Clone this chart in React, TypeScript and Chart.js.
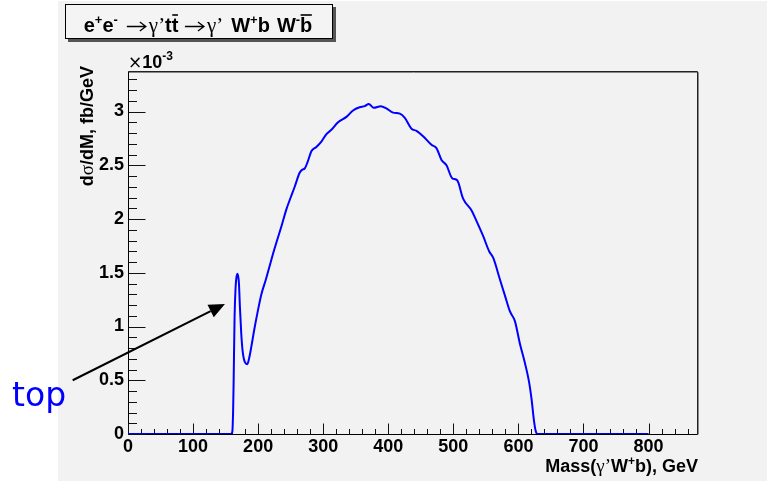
import React, { useEffect, useRef } from "react";
import { Chart, registerables } from "chart.js";

Chart.register(...registerables);

// Invariant mass of (gamma' W+ b), GeV
const massGeV = [
  0, 150, 158, 160.3, 161.5, 162.3, 163.8, 165.4, 167, 168.5, 170.5, 172, 174, 176, 178, 180.5,
  183.4, 186, 189.5, 194, 199.7, 205, 212, 218, 223, 229, 235.7, 243.4, 250, 256.2, 263.8, 268,
  271.5, 276.6, 281.8, 289.5, 297.2, 305, 312.6, 322.8, 335.7, 345.8, 356, 363.8, 370, 377.7,
  388.5, 397, 407.4, 417.7, 425.4, 435.7, 443.4, 453.5, 466.4, 474, 481.8, 489.5, 498.2, 505.9,
  515, 528, 535.7, 545.9, 555, 561.2, 571.5, 579.2, 587, 594.6, 602.3, 610, 616.2, 620.3, 623.8,
  626.5, 629, 640, 800,
];
// d(sigma)/dM in units of 1e-3 fb/GeV
const dSigmaDM = [
  0, 0, 0, 0.02, 0.2, 0.47, 1.09, 1.37, 1.47, 1.49, 1.4, 1.18, 0.94, 0.78, 0.7, 0.66,
  0.65, 0.7, 0.81, 0.97, 1.15, 1.3, 1.44, 1.57, 1.68, 1.8, 1.93, 2.09, 2.2, 2.3, 2.43, 2.46,
  2.47, 2.54, 2.63, 2.67, 2.72, 2.79, 2.83, 2.9, 2.95, 3.01, 3.04, 3.05, 3.07, 3.035,
  3.05, 3.03, 2.99, 2.98, 2.94, 2.84, 2.82, 2.77, 2.69, 2.66, 2.55, 2.5, 2.38, 2.36,
  2.19, 2.08, 1.98, 1.84, 1.7, 1.64, 1.44, 1.29, 1.14, 1.05, 0.84, 0.66, 0.49, 0.32, 0.13,
  0.03, 0, 0, 0,
];

const xMajorTicks = [0, 100, 200, 300, 400, 500, 600, 700, 800];
const yMajorTicks = [0, 0.5, 1, 1.5, 2, 2.5, 3];
const xRange = [0, 876];
const yRange = [0, 3.377];
const xMinorStep = 20;
const yMinorStep = 0.1;

const arrowFrom = { x: -85, y: 0.5 };
const arrowTo = { x: 149, y: 1.21 };

const BOLD = "bold 18px 'Liberation Sans', Arial, sans-serif";
const SUP = "bold 12px 'Liberation Sans', Arial, sans-serif";
const GREEK = "19px 'Liberation Serif', 'DejaVu Serif', serif";
const TBOLD = "bold 20px 'Liberation Sans', Arial, sans-serif";
const TSUP = "bold 13px 'Liberation Sans', Arial, sans-serif";
const TGREEK = "21px 'Liberation Serif', 'DejaVu Serif', serif";

type Seg = { t: string; font?: string; dy?: number; over?: boolean; gap?: number; arrow?: number };

function segsWidth(ctx: CanvasRenderingContext2D, segs: Seg[]) {
  let w = 0;
  for (const s of segs) {
    if (s.arrow) w += s.arrow;
    else {
      ctx.font = s.font || BOLD;
      w += ctx.measureText(s.t).width;
    }
    w += s.gap || 0;
  }
  return w;
}

function drawSegs(ctx: CanvasRenderingContext2D, segs: Seg[], x0: number, y: number) {
  let x = x0;
  ctx.textAlign = "left";
  ctx.textBaseline = "alphabetic";
  for (const s of segs) {
    if (s.arrow) {
      const ay = y - 5.5;
      ctx.save();
      ctx.strokeStyle = "#000";
      ctx.lineWidth = 1.3;
      ctx.beginPath();
      ctx.moveTo(x + 1, ay);
      ctx.lineTo(x + s.arrow - 1, ay);
      ctx.moveTo(x + s.arrow - 7, ay - 4.5);
      ctx.lineTo(x + s.arrow - 1, ay);
      ctx.lineTo(x + s.arrow - 7, ay + 4.5);
      ctx.stroke();
      ctx.restore();
      x += s.arrow + (s.gap || 0);
      continue;
    }
    ctx.font = s.font || BOLD;
    const w = ctx.measureText(s.t).width;
    ctx.fillText(s.t, x, y + (s.dy || 0));
    if (s.over) {
      ctx.save();
      ctx.strokeStyle = ctx.fillStyle as string;
      ctx.lineWidth = 1.6;
      ctx.beginPath();
      ctx.moveTo(x + 0.5, y - 17);
      ctx.lineTo(x + w - 0.5, y - 17);
      ctx.stroke();
      ctx.restore();
    }
    x += w + (s.gap || 0);
  }
}

const decorPlugin = {
  id: "rootDecor",
  beforeDraw(chart: any) {
    const ctx: CanvasRenderingContext2D = chart.ctx;
    ctx.save();
    ctx.fillStyle = "#ffffff";
    ctx.fillRect(0, 0, chart.width, chart.height);
    ctx.fillStyle = "#f2f2f2";
    ctx.fillRect(58, 1, chart.width - 58, 480);

    // title box
    ctx.fillStyle = "#555";
    ctx.fillRect(68, 7, 268, 35);
    ctx.fillStyle = "#f4f4f4";
    ctx.fillRect(65, 4, 268, 35);
    ctx.strokeStyle = "#000";
    ctx.lineWidth = 1;
    ctx.strokeRect(65.5, 4.5, 267, 34);
    ctx.fillStyle = "#000";
    const title: Seg[] = [
      { t: "e", font: TBOLD },
      { t: "+", font: TSUP, dy: -8 },
      { t: "e", font: TBOLD },
      { t: "-", font: TSUP, dy: -8, gap: 8 },
      { t: "", arrow: 21, gap: 2 },
      { t: "\u03b3", font: TGREEK },
      { t: "\u2019", font: TGREEK },
      { t: "t", font: TBOLD },
      { t: "t", font: TBOLD, over: true, gap: 5.5 },
      { t: "", arrow: 21, gap: 2 },
      { t: "\u03b3", font: TGREEK },
      { t: "\u2019", font: TGREEK, gap: 8 },
      { t: "W", font: TBOLD },
      { t: "+", font: TSUP, dy: -8 },
      { t: "b", font: TBOLD, gap: 7 },
      { t: "W", font: TBOLD },
      { t: "-", font: TSUP, dy: -8 },
      { t: "b", font: TBOLD, over: true },
    ];
    const tw = segsWidth(ctx, title);
    drawSegs(ctx, title, 198 - tw / 2, 32);
    ctx.restore();
  },
  beforeDatasetsDraw(chart: any) {
    const ctx: CanvasRenderingContext2D = chart.ctx;
    const xs = chart.scales.x;
    const ys = chart.scales.y;
    const { left, right, top, bottom } = chart.chartArea;
    const L = Math.round(left) + 0.5;
    const B = Math.round(bottom) + 0.5;
    const T = Math.round(top) + 0.5;
    const R = Math.round(right) - 0.5;
    ctx.save();
    ctx.lineWidth = 1;
    // frame
    ctx.strokeStyle = "#888";
    ctx.beginPath();
    ctx.moveTo(L, T + 1);
    ctx.lineTo(R + 1, T + 1);
    ctx.lineTo(R + 1, B);
    ctx.stroke();
    ctx.strokeStyle = "#222";
    ctx.beginPath();
    ctx.moveTo(L, T);
    ctx.lineTo(R, T);
    ctx.lineTo(R, B);
    ctx.stroke();
    // axes
    ctx.strokeStyle = "#000";
    ctx.beginPath();
    ctx.moveTo(L, T);
    ctx.lineTo(L, B);
    ctx.lineTo(R, B);
    ctx.stroke();
    // ticks
    ctx.strokeStyle = "#111";
    ctx.beginPath();
    for (let v = xRange[0]; v <= xRange[1] + 1e-9; v += xMinorStep) {
      const px = Math.round(xs.getPixelForValue(v)) + 0.5;
      const major = xMajorTicks.includes(Math.round(v));
      ctx.moveTo(px, B);
      ctx.lineTo(px, B - (major ? 11 : 5.5));
    }
    for (let i = 0; i * yMinorStep <= yRange[1] + 1e-9; i++) {
      const v = i * yMinorStep;
      const py = Math.round(ys.getPixelForValue(v)) + 0.5;
      const major = i % 5 === 0;
      ctx.moveTo(L, py);
      ctx.lineTo(L + (major ? 17 : 8.5), py);
    }
    ctx.stroke();
    ctx.restore();
  },
  afterDatasetsDraw(chart: any) {
    const ctx: CanvasRenderingContext2D = chart.ctx;
    const xs = chart.scales.x;
    const ys = chart.scales.y;
    const { left, right, top } = chart.chartArea;
    ctx.save();
    ctx.fillStyle = "#000";
    // x10^-3
    drawSegs(
      ctx,
      [
        { t: "\u00d7", font: "17px 'DejaVu Sans', sans-serif" },
        { t: "10" },
        { t: "-3", font: SUP, dy: -8 },
      ],
      left,
      top - 3
    );
    // y title
    const yTitle: Seg[] = [
      { t: "d" },
      { t: "\u03c3", font: GREEK },
      { t: "/dM, fb/GeV" },
    ];
    const yw = segsWidth(ctx, yTitle);
    ctx.save();
    ctx.translate(93, 66);
    ctx.rotate(-Math.PI / 2);
    drawSegs(ctx, yTitle, -yw, 0);
    ctx.restore();
    // x title
    const xTitle: Seg[] = [
      { t: "Mass(" },
      { t: "\u03b3", font: GREEK },
      { t: "\u2019", font: GREEK },
      { t: "W" },
      { t: "+", font: SUP, dy: -7 },
      { t: "b), GeV" },
    ];
    const xw = segsWidth(ctx, xTitle);
    drawSegs(ctx, xTitle, right - xw, 472);

    // annotation arrow
    const x0 = xs.getPixelForValue(arrowFrom.x);
    const y0 = ys.getPixelForValue(arrowFrom.y);
    const x1 = xs.getPixelForValue(arrowTo.x);
    const y1 = ys.getPixelForValue(arrowTo.y);
    const dx = x1 - x0;
    const dy = y1 - y0;
    const len = Math.hypot(dx, dy);
    const ux = dx / len;
    const uy = dy / len;
    const hl = 16;
    const hw = 7;
    const bx = x1 - ux * hl;
    const by = y1 - uy * hl;
    ctx.strokeStyle = "#000";
    ctx.lineWidth = 2;
    ctx.beginPath();
    ctx.moveTo(x0, y0);
    ctx.lineTo(bx, by);
    ctx.stroke();
    ctx.beginPath();
    ctx.moveTo(x1, y1);
    ctx.lineTo(bx - uy * hw, by + ux * hw);
    ctx.lineTo(bx + uy * hw, by - ux * hw);
    ctx.closePath();
    ctx.fill();

    // "top" label
    ctx.fillStyle = "#0000ff";
    ctx.font = "33px 'DejaVu Sans', sans-serif";
    ctx.textAlign = "left";
    ctx.textBaseline = "alphabetic";
    ctx.fillText("top", 12, 406);
    ctx.restore();
  },
};

export default function App() {
  const ref = useRef<HTMLCanvasElement | null>(null);
  useEffect(() => {
    if (!ref.current) return;
    const tickFont = { family: "'Liberation Sans', Arial, sans-serif", weight: "bold", size: 18 };
    const chart = new Chart(ref.current, {
      type: "scatter",
      data: {
        datasets: [
          {
            data: massGeV.map((m, i) => ({ x: m, y: dSigmaDM[i] })),
            showLine: true,
            borderColor: "#0000ff",
            borderWidth: 2,
            pointRadius: 0,
            cubicInterpolationMode: "monotone",
            fill: false,
          },
        ],
      },
      options: {
        animation: false,
        responsive: false,
        devicePixelRatio: 1,
        layout: { padding: { left: 0, top: 71, right: 69, bottom: 0 } },
        plugins: { legend: { display: false }, tooltip: { enabled: false } },
        scales: {
          x: {
            type: "linear",
            min: xRange[0],
            max: xRange[1],
            grid: { display: false, drawTicks: false },
            border: { display: false },
            afterFit: (s: any) => {
              s.height = 48;
            },
            afterBuildTicks: (s: any) => {
              s.ticks = xMajorTicks.map((v) => ({ value: v }));
            },
            ticks: {
              padding: 2,
              color: "#000",
              maxRotation: 0,
              autoSkip: false,
              font: tickFont,
              callback: (v: any) => String(v),
            },
          },
          y: {
            type: "linear",
            min: yRange[0],
            max: yRange[1],
            grid: { display: false, drawTicks: false },
            border: { display: false },
            afterFit: (s: any) => {
              s.width = 128;
            },
            afterBuildTicks: (s: any) => {
              s.ticks = yMajorTicks.map((v) => ({ value: v }));
            },
            ticks: {
              padding: 4,
              color: "#000",
              autoSkip: false,
              font: tickFont,
              callback: (v: any) => String(v),
            },
          },
        },
      },
      plugins: [decorPlugin],
    } as any);
    return () => chart.destroy();
  }, []);
  return (
    <div style={{ position: "absolute", left: 0, top: 0, width: 767, height: 482 }}>
      <canvas ref={ref} width={767} height={482} />
    </div>
  );
}
